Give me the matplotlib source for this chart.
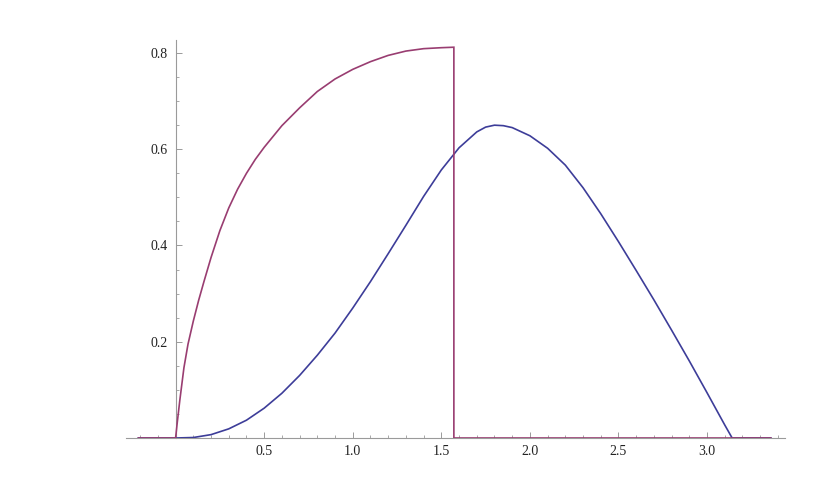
import matplotlib
matplotlib.use("Agg")
import matplotlib.pyplot as plt
from matplotlib.ticker import MultipleLocator, FixedLocator

# Data
blue_x = [-0.21, 0.0, 0.1, 0.2, 0.3, 0.4, 0.5, 0.6, 0.7, 0.8, 0.9, 1.0, 1.1, 1.2,
          1.3, 1.4, 1.5, 1.6, 1.7, 1.75, 1.8, 1.85, 1.9, 2.0, 2.1, 2.2, 2.3, 2.4,
          2.5, 2.6, 2.7, 2.8, 2.9, 3.0, 3.1, 3.1416, 3.36]
blue_y = [0.0, 0.0, 0.001, 0.007, 0.019, 0.037, 0.062, 0.093, 0.130, 0.172, 0.218,
          0.270, 0.325, 0.383, 0.442, 0.502, 0.557, 0.603, 0.636, 0.646, 0.650,
          0.649, 0.645, 0.628, 0.602, 0.567, 0.520, 0.466, 0.408, 0.348, 0.287,
          0.224, 0.160, 0.094, 0.027, 0.0, 0.0]

purple_x = [-0.21, 0.0, 0.009, 0.024, 0.047, 0.07, 0.1, 0.13, 0.16, 0.2, 0.25, 0.3,
            0.35, 0.4, 0.45, 0.5, 0.6, 0.7, 0.8, 0.9, 1.0, 1.1, 1.2, 1.3, 1.4, 1.5,
            1.5708, 1.5708, 3.36]
purple_y = [0.0, 0.0, 0.031, 0.079, 0.146, 0.195, 0.243, 0.286, 0.325, 0.375, 0.431,
            0.478, 0.517, 0.550, 0.579, 0.604, 0.649, 0.686, 0.720, 0.746, 0.766,
            0.782, 0.795, 0.804, 0.809, 0.811, 0.812, 0.0, 0.0]

x_major = [0.5, 1.0, 1.5, 2.0, 2.5, 3.0]
x_labels = ["0.5", "1.0", "1.5", "2.0", "2.5", "3.0"]
y_major = [0.2, 0.4, 0.6, 0.8]
y_labels = ["0.2", "0.4", "0.6", "0.8"]

plt.rcParams['font.family'] = ['Liberation Serif', 'DejaVu Serif']

W, H = 827, 499
fig = plt.figure(figsize=(W / 100, H / 100), dpi=100)
left_px, right_px, bottom_px, top_px = 126, 785, 438, 40
ax = fig.add_axes([left_px / W, 1 - bottom_px / H,
                   (right_px - left_px) / W, (bottom_px - top_px) / H])

ax.plot(blue_x, blue_y, color=(0.24, 0.24, 0.6), lw=1.2, solid_joinstyle='round')
ax.plot(purple_x, purple_y, color=(0.6, 0.24, 0.442), lw=1.2, solid_joinstyle='miter')

ax.set_xlim(-0.28, 3.44)
ax.set_ylim(0, 0.827)

axis_col = '#9a9a9a'
for s in ['top', 'right']:
    ax.spines[s].set_visible(False)
ax.spines['left'].set_position(('data', 0))
ax.spines['bottom'].set_position(('data', 0))
for s in ['left', 'bottom']:
    ax.spines[s].set_color(axis_col)
    ax.spines[s].set_linewidth(0.8)
ax.spines['left'].set_zorder(0)
ax.spines['bottom'].set_zorder(0)

ax.xaxis.set_major_locator(FixedLocator(x_major))
ax.set_xticklabels(x_labels)
ax.xaxis.set_minor_locator(MultipleLocator(0.1))
ax.yaxis.set_major_locator(FixedLocator(y_major))
ax.set_yticklabels(y_labels)
ax.yaxis.set_minor_locator(MultipleLocator(0.05))

ax.tick_params(axis='both', which='major', direction='in', length=4, width=0.7,
               color=axis_col, labelsize=10, labelcolor='#222222')
ax.tick_params(axis='both', which='minor', direction='in', length=2.2, width=0.6,
               color=axis_col)
ax.tick_params(axis='x', which='major', pad=5)
ax.tick_params(axis='y', which='major', pad=6)

fig.savefig('out.png', dpi=100, facecolor='white')
